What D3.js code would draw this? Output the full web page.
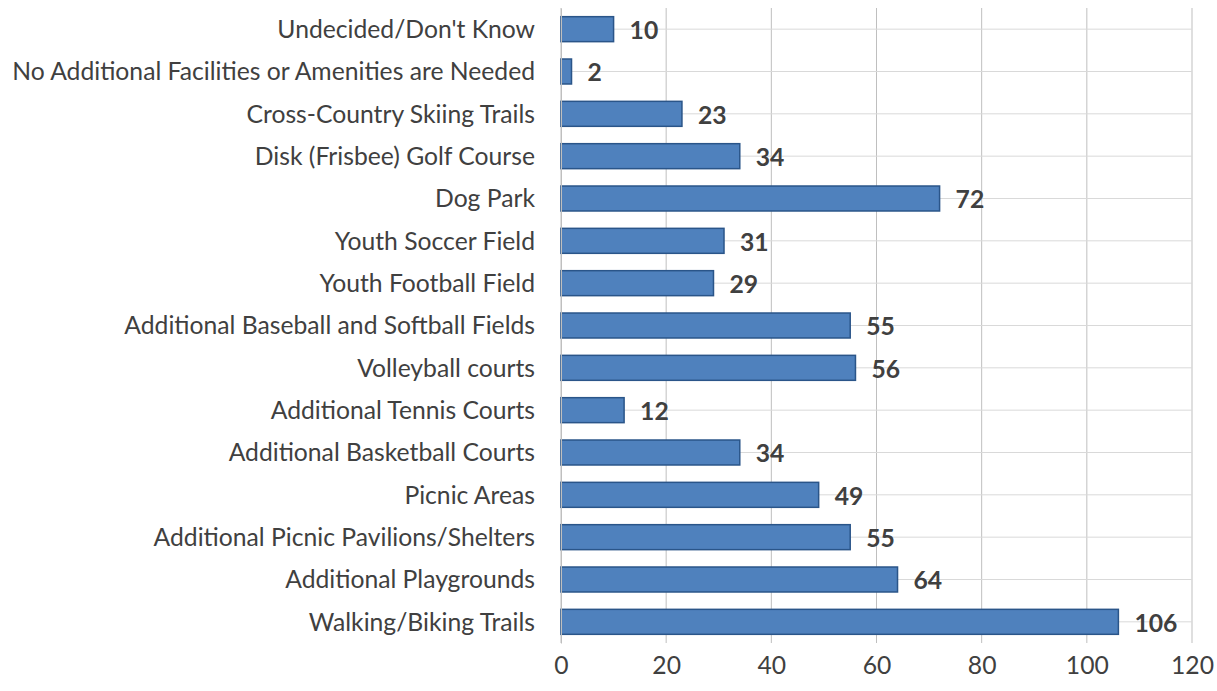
<!DOCTYPE html>
<html><head><meta charset="utf-8">
<script src="https://cdn.jsdelivr.net/npm/d3@7"></script>
<style>body{margin:0;background:#fff}svg{display:block}</style>
</head><body>
<svg id="c" width="1217" height="691"></svg>
<script>
const categories = ["Undecided/Don't Know","No Additional Facilities or Amenities are Needed","Cross-Country Skiing Trails","Disk (Frisbee) Golf Course","Dog Park","Youth Soccer Field","Youth Football Field","Additional Baseball and Softball Fields","Volleyball courts","Additional Tennis Courts","Additional Basketball Courts","Picnic Areas","Additional Picnic Pavilions/Shelters","Additional Playgrounds","Walking/Biking Trails"];
const values = [10,2,23,34,72,31,29,55,56,12,34,49,55,64,106];
const xTicks = [0,20,40,60,80,100,120];

const svg = d3.select("#c");
const font = "Lato, 'Open Sans', sans-serif";
const fs = 24.7;
const x = d3.scaleLinear().domain([0,120]).range([561,1192]);
const y = d3.scaleBand().domain(categories).range([8,643]).paddingInner(0.41).paddingOuter(0.205);

// vertical gridlines
svg.append("g").selectAll("line").data(xTicks).join("line")
  .attr("x1",d=>x(d)).attr("x2",d=>x(d)).attr("y1",8).attr("y2",643)
  .attr("stroke","#bfbfbf").attr("stroke-width",1);
// horizontal lines at category centers
svg.append("g").selectAll("line").data(categories).join("line")
  .attr("x1",x(0)).attr("x2",x(120))
  .attr("y1",d=>y(d)+y.bandwidth()/2).attr("y2",d=>y(d)+y.bandwidth()/2)
  .attr("stroke","#d9d9d9").attr("stroke-width",1);

// bars
svg.append("g").selectAll("rect").data(values).join("rect")
  .attr("x",x(0)).attr("y",(d,i)=>y(categories[i]))
  .attr("width",d=>x(d)-x(0)).attr("height",y.bandwidth())
  .attr("fill","#4f81bd").attr("stroke","#2a5589").attr("stroke-width",1.5);

// value labels
svg.append("g").selectAll("text").data(values).join("text")
  .attr("x",d=>x(d)+16).attr("y",(d,i)=>y(categories[i])+y.bandwidth()/2)
  .attr("dy","0.4em").attr("font-family",font).attr("font-size",fs).attr("font-weight","bold")
  .attr("fill","#404040").text(d=>d);

// category labels
const yAxis = d3.axisLeft(y).tickSize(0).tickPadding(26);
const ga = svg.append("g").attr("transform",`translate(${x(0)},0)`).call(yAxis);
ga.select(".domain").attr("stroke","#bfbfbf");
ga.selectAll("text").attr("font-family",font).attr("font-size",fs).attr("fill","#404040").attr("dy","0.36em");

// x axis labels
const xAxis = d3.axisBottom(x).tickValues(xTicks).tickSize(0).tickPadding(13);
const gx = svg.append("g").attr("transform","translate(0,643)").call(xAxis);
gx.select(".domain").remove();
gx.selectAll("text").attr("font-family",font).attr("font-size",fs).attr("fill","#404040");
</script>
</body></html>
